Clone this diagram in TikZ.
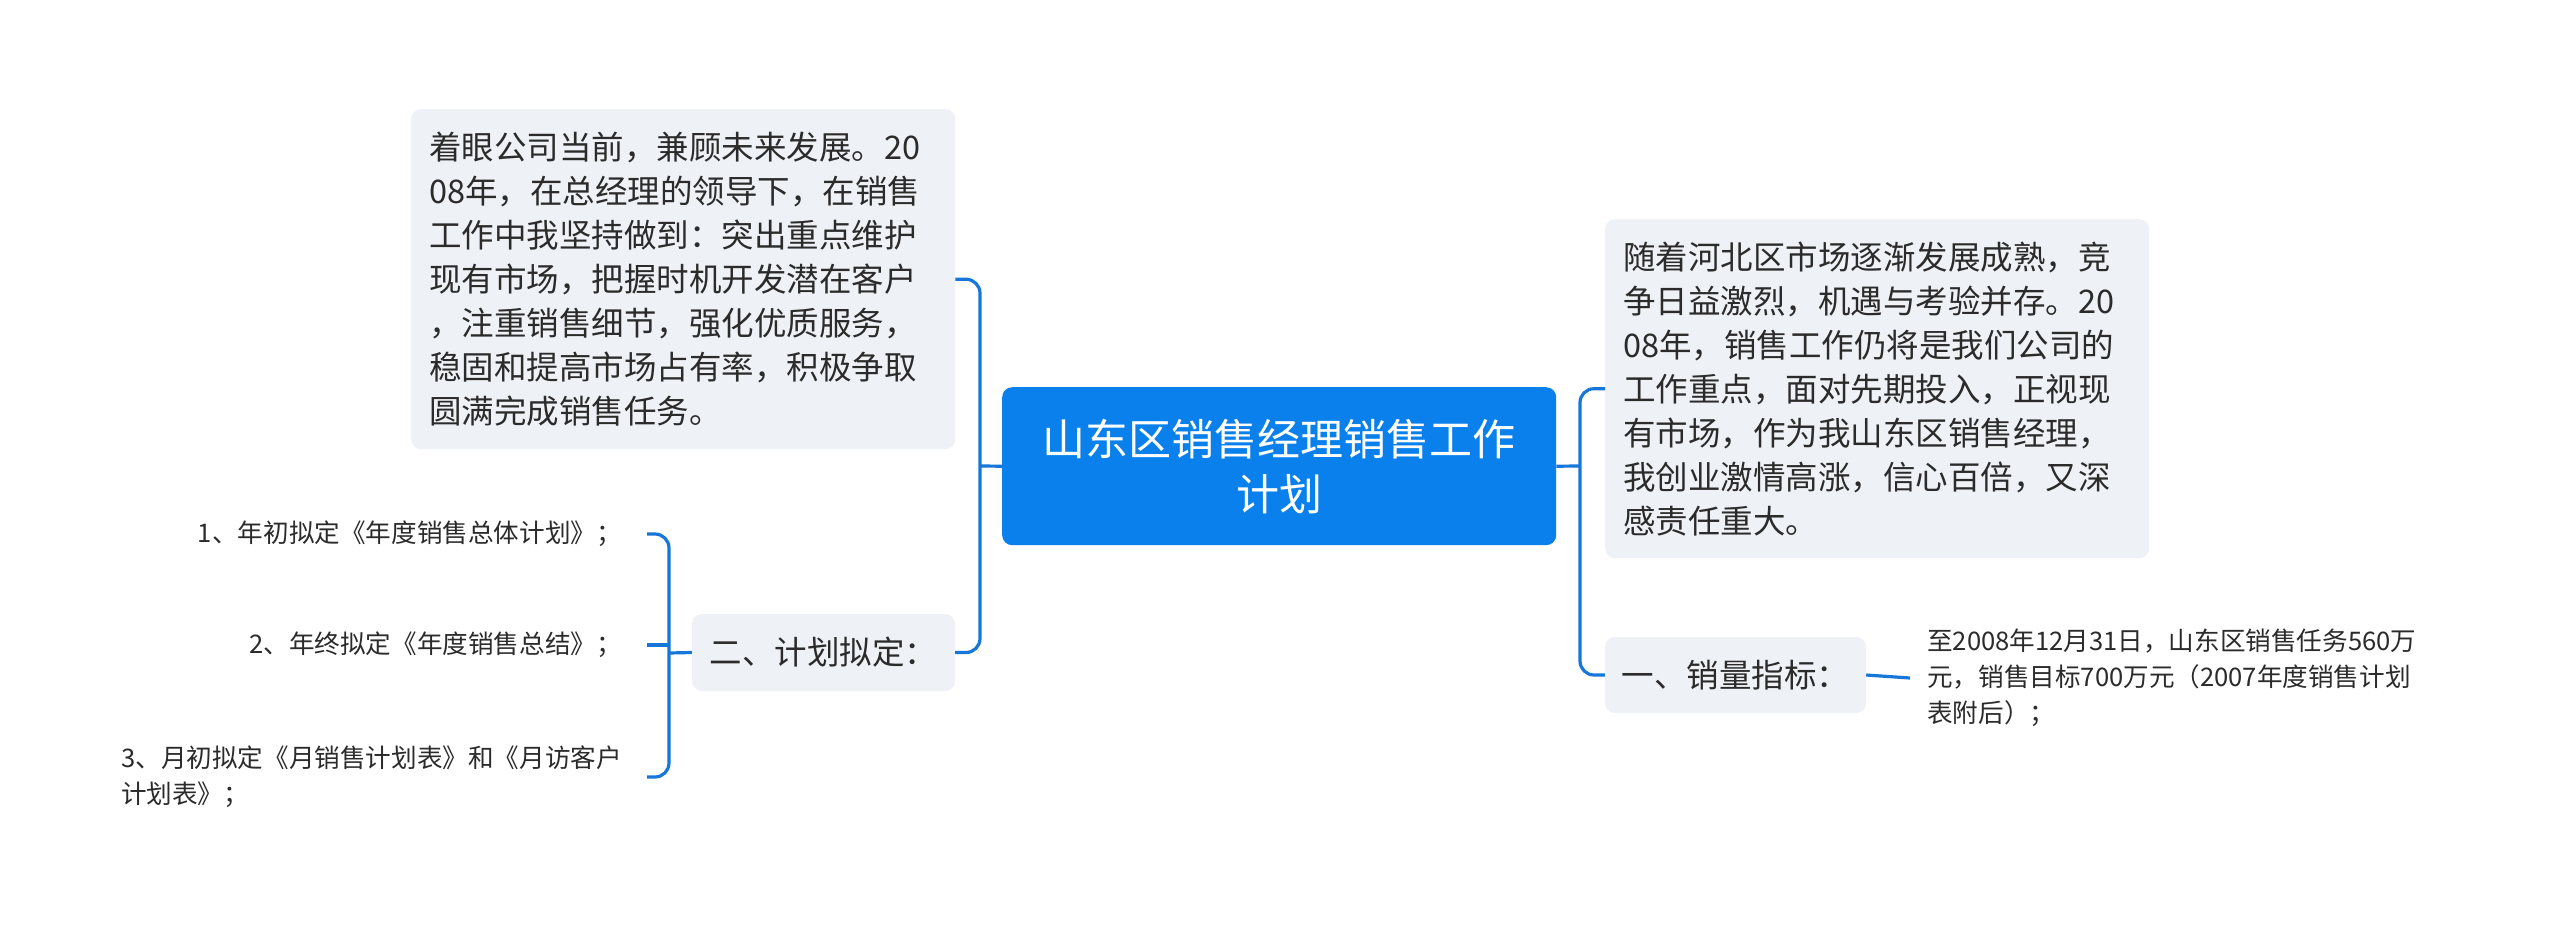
\documentclass[tikz,border=0pt]{standalone}
\usepackage{fontspec}
\setmainfont{Noto Sans CJK SC}
\definecolor{lineblue}{HTML}{1677D8}
\definecolor{mainblue}{HTML}{0A80EC}
\definecolor{boxgrey}{HTML}{EEF1F5}
\definecolor{textdark}{HTML}{2B2B2B}
\begin{document}
\begin{tikzpicture}[x=1pt,y=-1pt,
  conn/.style={draw=lineblue,line width=3.2pt,rounded corners=14pt},
  para/.style={fill=boxgrey,rounded corners=10pt,text=textdark,
    font=\fontsize{32.5}{44}\selectfont,align=left,text width=508pt,inner xsep=18pt,inner ysep=0pt},
  topicbox/.style={fill=boxgrey,rounded corners=10pt,text=textdark,
    font=\fontsize{32.5}{40}\selectfont,inner sep=0pt},
  centerbox/.style={fill=mainblue,rounded corners=10pt,text=white,
    font=\fontsize{43}{55}\selectfont,align=center,inner sep=0pt},
  leaf/.style={text=textdark,font=\fontsize{25.6}{36}\selectfont,inner ysep=0pt}]
\useasboundingbox (0,0) rectangle (2560,930);
\fill[white] (0,0) rectangle (2560,930);

\node[centerbox,anchor=north west,minimum width=554pt,minimum height=158pt] (c) at (1002,387)
  {山东区销售经理销售工作\\计划};

\node[para,anchor=north west,minimum height=340pt] (tl) at (411,109)
  {着眼公司当前，兼顾未来发展。20\\08年，在总经理的领导下，在销售\\工作中我坚持做到：突出重点维护\\现有市场，把握时机开发潜在客户\\，注重销售细节，强化优质服务，\\稳固和提高市场占有率，积极争取\\圆满完成销售任务。};

\node[topicbox,minimum width=263pt,minimum height=77pt] (b2) at (823.5,652.5) {二、计划拟定：};

\node[para,anchor=north west,minimum height=339pt] (tr) at (1605,219)
  {随着河北区市场逐渐发展成熟，竞\\争日益激烈，机遇与考验并存。20\\08年，销售工作仍将是我们公司的\\工作重点，面对先期投入，正视现\\有市场，作为我山东区销售经理，\\我创业激情高涨，信心百倍，又深\\感责任重大。};

\node[topicbox,minimum width=261pt,minimum height=76pt] (b1) at (1735.5,675) {一、销量指标：};

\node[leaf,anchor=west,align=left,inner xsep=17pt] (lr) at (1910,678)
  {至2008年12月31日，山东区销售任务560万\\元，销售目标700万元（2007年度销售计划\\表附后）；};

\node[leaf,anchor=east,inner xsep=25pt] (l1) at (647,534) {1、年初拟定《年度销售总体计划》；};
\node[leaf,anchor=east,inner xsep=25pt] (l2) at (647,645) {2、年终拟定《年度销售总结》；};
\node[leaf,anchor=east,align=left,inner xsep=25pt] (l3) at (647,777)
  {3、月初拟定《月销售计划表》和《月访客户\\计划表》；};

\coordinate (ls) at (980,466);
\coordinate (rs) at (1580,466);
\coordinate (bs) at (669,653);

\draw[conn] (c.west) -- (ls);
\draw[conn] (tl.east) -| (ls |- b2.east) -- (b2.east);
\draw[conn] (c.east) -- (rs);
\draw[conn] (tr.west) -| (rs |- b1.west) -- (b1.west);
\draw[conn] (b1.east) -- (lr.west);
\draw[conn] (b2.west) -- (bs);
\draw[conn] (l1.east) -| (bs |- l3.east) -- (l3.east);
\draw[conn] (l2.east) -- (l2.east -| bs);
\end{tikzpicture}
\end{document}
